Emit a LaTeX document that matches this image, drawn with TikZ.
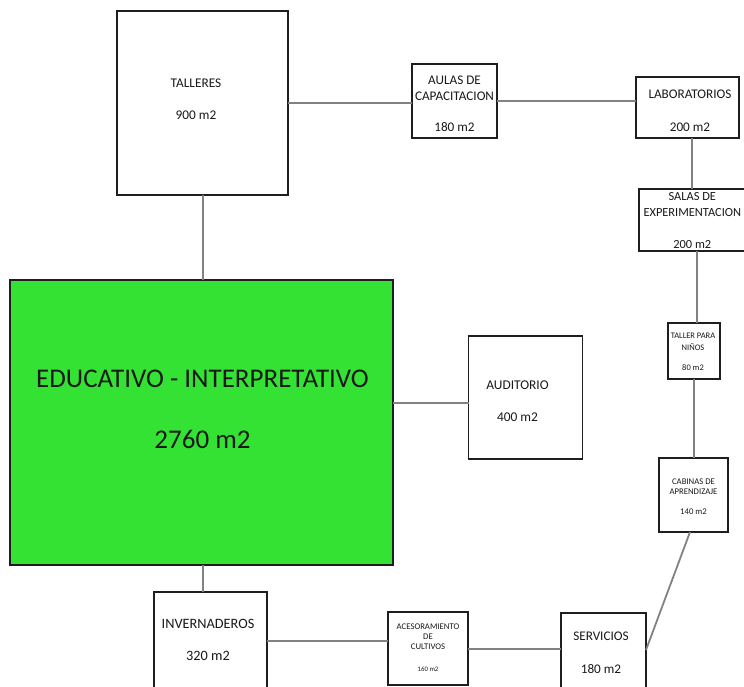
\documentclass[tikz,border=0pt]{standalone}
\usepackage{fontspec}
\setmainfont{Carlito}
\definecolor{edugreen}{RGB}{52,226,52}
\definecolor{boxline}{RGB}{30,30,30}
\definecolor{connline}{RGB}{130,130,130}
\definecolor{txtcol}{RGB}{25,25,25}
\begin{document}
\begin{tikzpicture}[x=1pt,y=-1pt,
  box/.style={draw=boxline,line width=1.8pt,rectangle,inner sep=0pt,outer sep=0pt,fill=white},
  edubox/.style={box,fill=edugreen},
  conn/.style={draw=connline,line width=1.8pt},
  txt/.style={align=center,inner sep=0pt,text=txtcol},
  fmid/.style={font=\fontsize{13.2}{16}\selectfont},
  fbig/.style={font=\fontsize{27}{31}\selectfont}]
\useasboundingbox (0,0) rectangle (744,687);
\clip (0,0) rectangle (744,687);
\fill[white] (0,0) rectangle (744,687);
% boxes
\node[box,minimum width=171,minimum height=184] (talleres) at (202.5,103) {};
\node[box,minimum width=85,minimum height=74] (aulas) at (454.5,101) {};
\node[box,minimum width=103,minimum height=61] (lab) at (687.5,107.5) {};
\node[box,minimum width=112,minimum height=62] (salas) at (695,220) {};
\node[box,minimum width=52,minimum height=56] (tpara) at (694,351) {};
\node[box,minimum width=69,minimum height=74] (cabinas) at (693.5,495) {};
\node[box,minimum width=85,minimum height=84] (servicios) at (603.5,655) {};
\node[box,minimum width=80,minimum height=73] (acesor) at (428,648.5) {};
\node[box,minimum width=113,minimum height=110] (inver) at (210.5,647) {};
\node[box,minimum width=114,minimum height=123] (auditorio) at (525.5,397.5) {};
\node[edubox,minimum width=383,minimum height=285] (edu) at (201.5,422.5) {};
% texts
\node[txt,font=\fontsize{13.3}{16}\selectfont] (t-talleres) at (196,99) {TALLERES\\[16pt]900 m2};
\node[txt,fmid] (t-aulas) at (454.5,103.5) {AULAS DE\\CAPACITACION\\[15pt]180 m2};
\node[txt,fmid] (t-lab) at (690,110.5) {LABORATORIOS\\[17pt]200 m2};
\node[txt,font=\fontsize{12.4}{16}\selectfont] (t-salas) at (692.3,221) {SALAS DE\\EXPERIMENTACION\\[16pt]200 m2};
\node[txt,font=\fontsize{8.5}{12}\selectfont] (t-tpara) at (693,352) {TALLER PARA\\NIÑOS\\[8pt]80 m2};
\node[txt,font=\fontsize{8.7}{10}\selectfont] (t-cabinas) at (693.5,497) {CABINAS DE\\APRENDIZAJE\\[10pt]140 m2};
\node[txt,font=\fontsize{8.7}{10}\selectfont] (t-acesor) at (428,648) {ACESORAMIENTO\\DE\\CULTIVOS\\[12pt]{\fontsize{6.8}{8}\selectfont 160 m2}};
\node[txt,fmid] (t-servicios) at (601,653) {SERVICIOS\\[17pt]180 m2};
\node[txt,font=\fontsize{14.3}{16}\selectfont] (t-inver) at (208,640) {INVERNADEROS\\[16pt]320 m2};
\node[txt,font=\fontsize{13.4}{16}\selectfont] (t-auditorio) at (517.5,401) {AUDITORIO\\[16pt]400 m2};
\node[txt,fbig] (t-edu) at (202.5,409.5) {EDUCATIVO - INTERPRETATIVO\\[30pt]2760 m2};
% connectors
\draw[conn] (talleres.east |- 0,103) -- (aulas.west |- 0,103);
\draw[conn] (aulas.east |- 0,101) -- (lab.west |- 0,101);
\draw[conn] (lab.south -| 692,0) -- (salas.north -| 692,0);
\draw[conn] (salas.south -| 697,0) -- (tpara.north -| 697,0);
\draw[conn] (tpara.south -| 694,0) -- (cabinas.north -| 694,0);
\draw[conn] (cabinas.south -| 690,0) -- (servicios.east |- 0,650);
\draw[conn] (servicios.west |- 0,649) -- (acesor.east |- 0,649);
\draw[conn] (acesor.west |- 0,641) -- (inver.east |- 0,641);
\draw[conn] (inver.north -| 203,0) -- (edu.south -| 203,0);
\draw[conn] (edu.east |- 0,403) -- (auditorio.west |- 0,403);
\draw[conn] (edu.north -| 203,0) -- (talleres.south -| 203,0);
\end{tikzpicture}
\end{document}
